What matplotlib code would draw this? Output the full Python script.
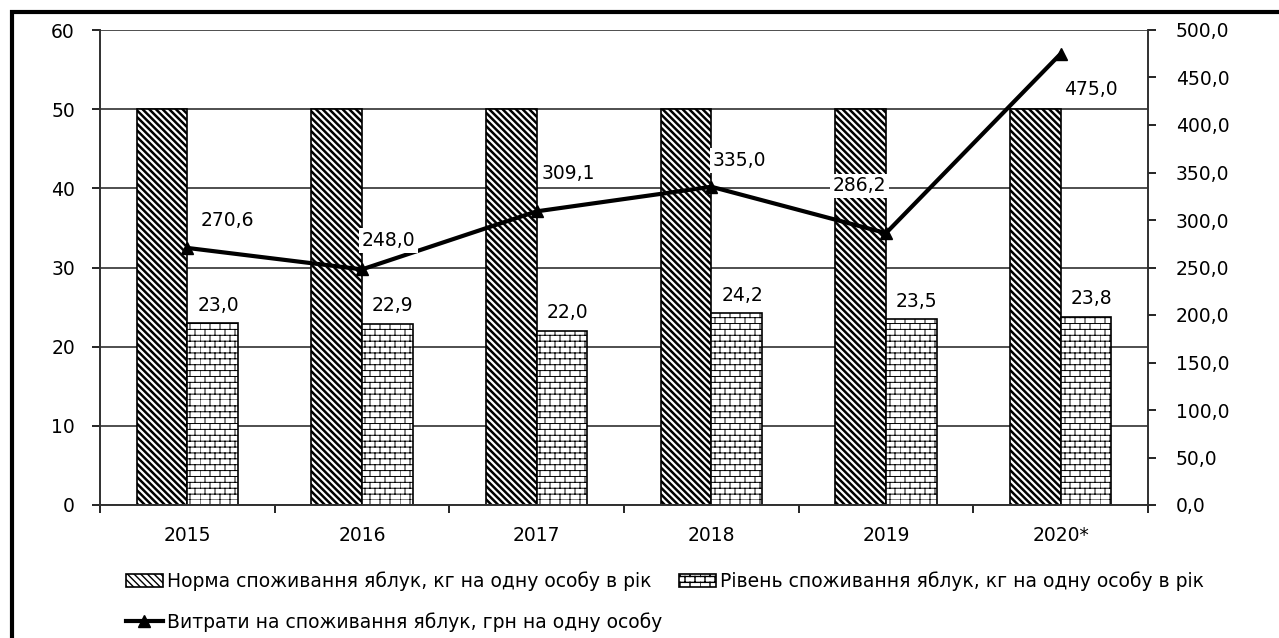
import warnings

import numpy as np
import matplotlib
matplotlib.use('Agg')
import matplotlib.pyplot as plt
from matplotlib import hatch as mhatch
from matplotlib.path import Path
from matplotlib.patches import Rectangle

warnings.filterwarnings('ignore')

years = ['2015', '2016', '2017', '2018', '2019', '2020*']
norma = [50, 50, 50, 50, 50, 50]
riven = [23.0, 22.9, 22.0, 24.2, 23.5, 23.8]
vytraty = [270.6, 248.0, 309.1, 335.0, 286.2, 475.0]

lbl_norma = 'Норма споживання яблук, кг на одну особу в рік'
lbl_riven = 'Рівень споживання яблук, кг на одну особу в рік'
lbl_vytr = 'Витрати на споживання яблук, грн на одну особу'


# "цегла" - штрихування як в Excel (символ 'b')
class BrickHatch(mhatch.HatchPatternBase):
    rows, cols = 17, 10

    def __init__(self, hatch, density):
        self.on = 'b' in hatch
        self.num_vertices = (self.rows * 2 + self.rows * self.cols * 2) if self.on else 0

    def set_vertices_and_codes(self, vertices, codes):
        segs = []
        for i in range(self.rows):
            y0 = i / self.rows
            y1 = (i + 1) / self.rows
            segs.append(((0, y0), (1, y0)))
            shift = 0.5 / self.cols if i % 2 else 0
            for j in range(self.cols):
                x = j / self.cols + shift
                segs.append(((x, y0), (x, y1)))
        vertices[:] = np.array(segs).reshape(-1, 2)
        codes[0::2] = Path.MOVETO
        codes[1::2] = Path.LINETO


mhatch._hatch_types.append(BrickHatch)

plt.rcParams['font.family'] = 'DejaVu Sans'
fs = 13.5

fig = plt.figure(figsize=(12.79, 6.38), dpi=100)
ax = fig.add_axes([100 / 1279, 1 - 505 / 638, 1048 / 1279, 475 / 638])
ax2 = ax.twinx()

x = np.arange(len(years))
w = 0.29

b1 = ax.bar(x - w / 2, norma, w, color='white', edgecolor='black', linewidth=1.2,
            hatch='\\' * 5, label=lbl_norma)
b2 = ax.bar(x + w / 2, riven, w, color='white', edgecolor='black', linewidth=1.2,
            hatch='b', label=lbl_riven)
for p in b1:
    if hasattr(p, 'set_hatch_linewidth'):
        p.set_hatch_linewidth(1.8)
for p in b2:
    if hasattr(p, 'set_hatch_linewidth'):
        p.set_hatch_linewidth(0.7)

for xi, v in zip(x, riven):
    ax.annotate(f'{v:.1f}'.replace('.', ','), (xi + w / 2, v), xytext=(4, 6),
                textcoords='offset points', ha='center', va='bottom', fontsize=fs)

ln, = ax2.plot(x, vytraty, color='black', lw=3, marker='^', markersize=9,
               label=lbl_vytr, zorder=5)

offs = [(29, 20), (19, 21), (23, 27), (20, 19), (-19, 34), (22, -26)]
for xi, v, o in zip(x, vytraty, offs):
    ax2.annotate(f'{v:.1f}'.replace('.', ','), (xi, v), xytext=o,
                 textcoords='offset points', ha='center', va='center', fontsize=fs,
                 bbox=dict(boxstyle='square,pad=0.15', fc='white', ec='none'), zorder=6)

ax.set_xlim(-0.5, len(years) - 0.5)
ax.set_ylim(0, 60)
ax2.set_ylim(0, 500)
ax.set_yticks(range(0, 61, 10))
ax2.set_yticks(range(0, 501, 50))
ax2.set_yticklabels([f'{t:.1f}'.replace('.', ',') for t in range(0, 501, 50)])

ax.set_xticks(x)
ax.set_xticklabels(years)
ax.set_xticks(np.arange(-0.5, len(years)), minor=True)
ax.tick_params(axis='x', which='major', length=0, pad=15, labelsize=fs)
ax.tick_params(axis='x', which='minor', length=6, width=1.2, direction='out')
ax.tick_params(axis='y', length=6, width=1.2, pad=12, labelsize=fs)
ax2.tick_params(axis='y', length=6, width=1.2, pad=14, labelsize=fs)

ax.set_axisbelow(True)
ax.grid(axis='y', color='#303030', lw=1.2)
for a in (ax, ax2):
    a.spines['top'].set_visible(False)
    for s in ('left', 'right', 'bottom'):
        a.spines[s].set_color('#303030')
        a.spines[s].set_linewidth(1.2)

fig.legend([b1, ln, b2], [lbl_norma, lbl_vytr, lbl_riven], ncol=2,
           loc='upper left', bbox_to_anchor=(118 / 1279, 1 - 564 / 638),
           frameon=False, fontsize=fs, handlelength=2.0, handleheight=0.7,
           handletextpad=0.2, columnspacing=0.9, labelspacing=1.1, borderaxespad=0)

# рамка навколо рисунка
fig.patches.append(Rectangle((12 / 1279, -0.2), 1.2, 1 - 12 / 638 + 0.2,
                             transform=fig.transFigure, fill=False, lw=3,
                             ec='black', clip_on=False))

plt.savefig('out.png', dpi=100)
